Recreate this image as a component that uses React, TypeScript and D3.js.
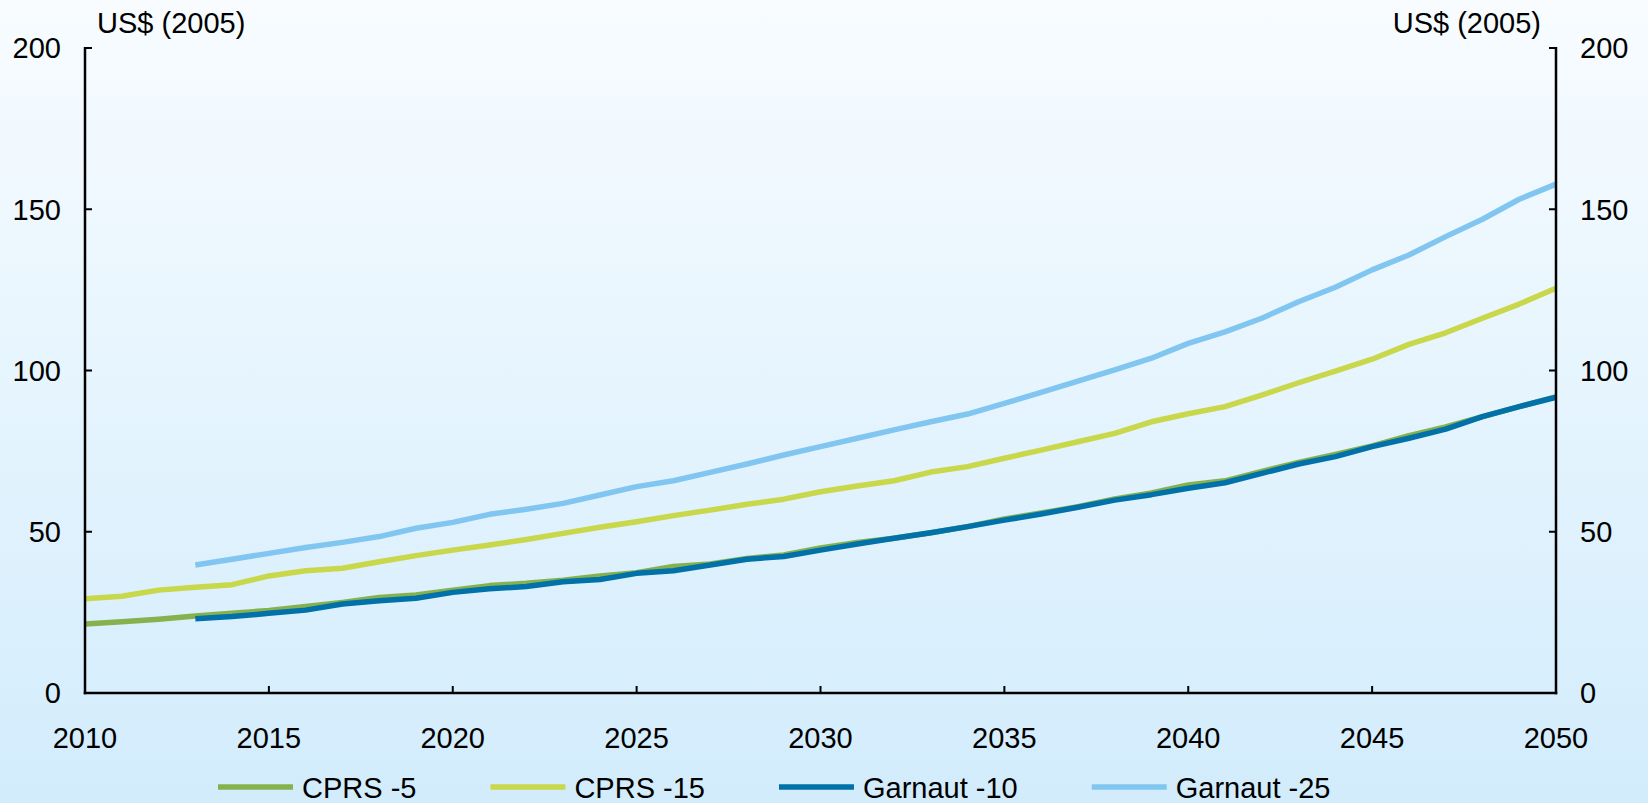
import { useEffect, useRef } from 'react';
import * as d3 from 'd3';

const years = d3.range(2010, 2051);

// CPRS -5, 2010-2050
const cprs5 = [
  21.4, 22.1, 22.9, 23.9, 24.7, 25.6, 26.8, 28.1, 29.6, 30.4,
  31.9, 33.3, 34.0, 35.0, 36.3, 37.3, 39.2, 40.0, 41.7, 42.8,
  45.0, 46.7, 48.0, 49.7, 51.6, 54.0, 55.8, 57.8, 60.2, 62.0,
  64.5, 65.8, 68.7, 71.5, 74.0, 76.6, 79.8, 82.5, 85.7, 88.8,
  91.8,
];

// CPRS -15, 2010-2050
const cprs15 = [
  29.2, 30.0, 31.9, 32.8, 33.6, 36.3, 37.9, 38.7, 40.7, 42.6,
  44.3, 45.9, 47.6, 49.5, 51.4, 53.1, 55.0, 56.7, 58.5, 60.1,
  62.4, 64.2, 65.8, 68.5, 70.2, 72.8, 75.3, 77.9, 80.5, 84.1,
  86.6, 88.8, 92.4, 96.2, 99.8, 103.5, 108.1, 111.7, 116.2, 120.6,
  125.5,
];

// Garnaut -10, starts 2013
const garnaut10 = [
  null, null, null, 23.0, 23.7, 24.7, 25.7, 27.6, 28.6, 29.4,
  31.2, 32.3, 33.0, 34.5, 35.2, 37.1, 37.9, 39.7, 41.5, 42.3,
  44.3, 46.2, 48.0, 49.7, 51.6, 53.6, 55.5, 57.6, 59.8, 61.5,
  63.5, 65.2, 68.1, 71.0, 73.3, 76.4, 79.0, 81.8, 85.7, 88.8,
  91.7,
];

// Garnaut -25, starts 2013
const garnaut25 = [
  null, null, null, 39.7, 41.5, 43.3, 45.1, 46.7, 48.5, 51.1,
  52.9, 55.4, 57.0, 58.8, 61.4, 64.0, 65.8, 68.4, 71.0, 73.8,
  76.4, 79.0, 81.6, 84.1, 86.5, 89.8, 93.2, 96.7, 100.2, 103.8,
  108.4, 112.0, 116.2, 121.3, 125.8, 131.2, 135.8, 141.5, 146.9, 153.1,
  157.8,
];

const series = [
  { name: 'CPRS -5', color: '#86B24E', values: cprs5 },
  { name: 'CPRS -15', color: '#C9D74B', values: cprs15 },
  { name: 'Garnaut -10', color: '#0071A9', values: garnaut10 },
  { name: 'Garnaut -25', color: '#80C6F1', values: garnaut25 },
];

// drawing order: dark blue sits on top of the green line
const drawOrder = ['CPRS -5', 'CPRS -15', 'Garnaut -25', 'Garnaut -10'];

const yTicks = [0, 50, 100, 150, 200];
const xTicks = [2010, 2015, 2020, 2025, 2030, 2035, 2040, 2045, 2050];
const unitLabel = 'US$ (2005)';

export default function App() {
  const svgRef = useRef<SVGSVGElement>(null);

  useEffect(() => {
    if (!svgRef.current) return;
    document.body.style.margin = '0';

    const width = 1648;
    const height = 803;
    const font = '"Liberation Sans", Arial, sans-serif';
    const fs = 29;

    const svg = d3.select(svgRef.current);
    svg.selectAll('*').remove();
    svg.attr('width', width).attr('height', height);

    // background gradient
    const defs = svg.append('defs');
    const grad = defs
      .append('linearGradient')
      .attr('id', 'bg')
      .attr('x1', 0).attr('y1', 0)
      .attr('x2', 0).attr('y2', 1);
    grad.append('stop').attr('offset', '0%').attr('stop-color', '#F8FCFF');
    grad.append('stop').attr('offset', '100%').attr('stop-color', '#D2ECFC');
    svg.append('rect')
      .attr('width', width).attr('height', height)
      .attr('fill', 'url(#bg)');

    const x = d3.scaleLinear().domain([2010, 2050]).range([85, 1556]);
    const y = d3.scaleLinear().domain([0, 200]).range([693, 48]);

    const [x0, x1] = x.range();

    // lines
    const line = d3
      .line<number | null>()
      .defined((d) => d != null)
      .x((_, i) => x(years[i]))
      .y((d) => y(d as number));

    drawOrder.forEach((name) => {
      const s = series.find((d) => d.name === name)!;
      svg.append('path')
        .datum(s.values)
        .attr('d', line)
        .attr('fill', 'none')
        .attr('stroke', s.color)
        .attr('stroke-width', 5.5)
        .attr('stroke-linejoin', 'round');
    });

    // axes
    const axisColor = '#000';
    svg.append('line')
      .attr('x1', x0).attr('x2', x0)
      .attr('y1', y(200) - 1).attr('y2', y(0) + 1.25)
      .attr('stroke', axisColor).attr('stroke-width', 2.5);
    svg.append('line')
      .attr('x1', x1).attr('x2', x1)
      .attr('y1', y(200) - 1).attr('y2', y(0) + 1.25)
      .attr('stroke', axisColor).attr('stroke-width', 2.5);
    svg.append('line')
      .attr('x1', x0 - 1.25).attr('x2', x1 + 1.25)
      .attr('y1', y(0)).attr('y2', y(0))
      .attr('stroke', axisColor).attr('stroke-width', 2.5);

    yTicks.forEach((t) => {
      svg.append('line')
        .attr('x1', x0).attr('x2', x0 + 7)
        .attr('y1', y(t)).attr('y2', y(t))
        .attr('stroke', axisColor).attr('stroke-width', 2);
      svg.append('line')
        .attr('x1', x1 - 7).attr('x2', x1)
        .attr('y1', y(t)).attr('y2', y(t))
        .attr('stroke', axisColor).attr('stroke-width', 2);
      svg.append('text')
        .attr('x', x0 - 24)
        .attr('y', y(t))
        .attr('text-anchor', 'end')
        .attr('dy', '0.36em')
        .attr('font-family', font)
        .attr('font-size', fs)
        .text(t);
      svg.append('text')
        .attr('x', x1 + 24)
        .attr('y', y(t))
        .attr('text-anchor', 'start')
        .attr('dy', '0.36em')
        .attr('font-family', font)
        .attr('font-size', fs)
        .text(t);
    });

    xTicks.forEach((t) => {
      svg.append('line')
        .attr('x1', x(t)).attr('x2', x(t))
        .attr('y1', y(0)).attr('y2', y(0) - 7)
        .attr('stroke', axisColor).attr('stroke-width', 2);
      svg.append('text')
        .attr('x', x(t))
        .attr('y', 748)
        .attr('text-anchor', 'middle')
        .attr('font-family', font)
        .attr('font-size', fs)
        .text(t);
    });

    // unit labels
    svg.append('text')
      .attr('x', 97).attr('y', 33)
      .attr('font-family', font).attr('font-size', fs)
      .text(unitLabel);
    svg.append('text')
      .attr('x', 1541).attr('y', 33)
      .attr('text-anchor', 'end')
      .attr('font-family', font).attr('font-size', fs)
      .text(unitLabel);

    // legend
    let lx = 218;
    const ly = 787;
    series.forEach((s) => {
      svg.append('line')
        .attr('x1', lx).attr('x2', lx + 75)
        .attr('y1', ly).attr('y2', ly)
        .attr('stroke', s.color).attr('stroke-width', 5.5);
      const txt = svg.append('text')
        .attr('x', lx + 84)
        .attr('y', 798)
        .attr('font-family', font)
        .attr('font-size', fs)
        .text(s.name);
      const w = (txt.node() as SVGTextElement).getComputedTextLength();
      lx = lx + 84 + w + 74;
    });
  }, []);

  return <svg ref={svgRef} style={{ display: 'block' }} />;
}
